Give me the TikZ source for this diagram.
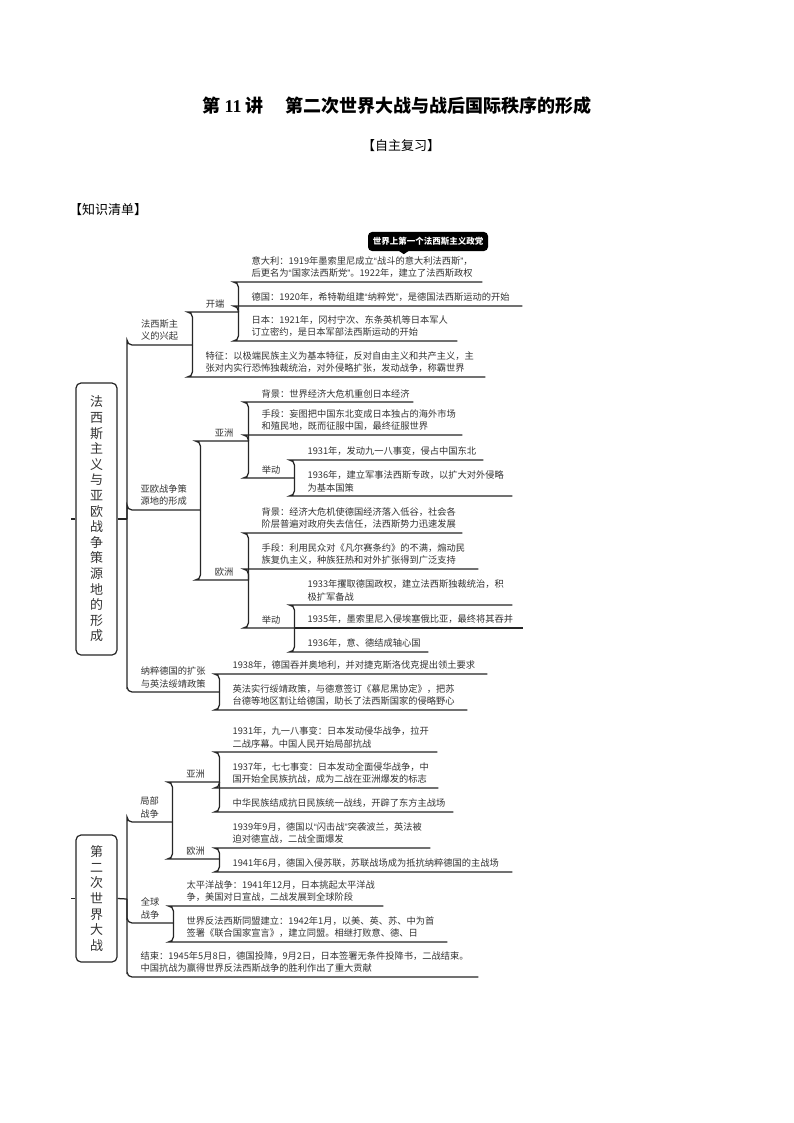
\documentclass[tikz,border=0pt]{standalone}
\usepackage{fontspec}
\setmainfont{Noto Sans CJK SC}
\newfontfamily\latinbf{Liberation Serif}
\newfontfamily\quotef{Liberation Sans}
\newcommand{\qopen}{{\quotef “}}
\newcommand{\qclose}{{\quotef ”}}
\definecolor{inkc}{HTML}{333333}
\definecolor{linec}{HTML}{262626}
\begin{document}
\begin{tikzpicture}[x=1pt, y=-1pt,
    txt/.style={font=\fontsize{9.25}{12.5}\selectfont, text=inkc},
    lab/.style={txt, anchor=south west, minimum width=#1, inner xsep=0pt, inner ysep=4pt, align=center},
    leaf/.style={txt, anchor=south west, text width=#1, inner xsep=13.5pt, inner ysep=4pt, align=left},
    root/.style={draw=linec, line width=1.2pt, rounded corners=5pt, minimum width=41pt, inner sep=0pt,
                 align=center, text=inkc, font=\fontsize{13}{15.6}\selectfont},
    link/.style={draw=linec, line width=1.25pt, rounded corners=5pt}]
  % Page
  \fill[white] (0,0) rectangle (794,1123);
  \useasboundingbox (0,0) rectangle (794,1123);

  % Headings
  \node[font=\fontsize{18}{20}\selectfont\bfseries] (title) at (397,106)
    {第 {\latinbf 11} 讲\hspace{1.2em}第二次世界大战与战后国际秩序的形成};
  \node[font=\fontsize{13}{15}\selectfont] (selfrev) at (401,146) {【自主复习】};
  \node[font=\fontsize{13}{15}\selectfont, anchor=west, inner sep=0pt] (checklist) at (69,210) {【知识清单】};

  % First map
  \node[root, minimum height=272pt] (root1) at (96.5,519)
    {法\\西\\斯\\主\\义\\与\\亚\\欧\\战\\争\\策\\源\\地\\的\\形\\成};
  \coordinate (r1) at (127,519);

  \node[lab=65pt] (A) at (127,345) {法西斯主\\义的兴起};
  \node[lab=46pt] (A1) at (192,312) {开端};
  \node[leaf=217pt] (A11) at (238,282) {意大利：1919年墨索里尼成立\qopen 战斗的意大利法西斯\qclose ，\\后更名为\qopen 国家法西斯党\qclose 。1922年，建立了法西斯政权};
  \node[leaf=257pt] (A12) at (238,306) {德国：1920年，希特勒组建\qopen 纳粹党\qclose ，是德国法西斯运动的开始};
  \node[leaf=192pt] (A13) at (238,341) {日本：1921年，冈村宁次、东条英机等日本军人\\订立密约，是日本军部法西斯运动的开始};
  \node[leaf=266pt] (A2) at (192,377) {特征：以极端民族主义为基本特征，反对自由主义和共产主义，主\\张对内实行恐怖独裁统治，对外侵略扩张，发动战争，称霸世界};

  \node[lab=73pt] (B) at (127,510) {亚欧战争策\\源地的形成};
  \node[lab=48pt] (B1) at (200,441) {亚洲};
  \node[leaf=138pt] (B11) at (248,402) {背景：世界经济大危机重创日本经济};
  \node[leaf=187pt] (B12) at (248,435) {手段：妄图把中国东北变成日本独占的海外市场\\和殖民地，既而征服中国，最终征服世界};
  \node[lab=46pt] (B13) at (248,478) {举动};
  \node[leaf=162pt] (B131) at (294,460) {1931年，发动九一八事变，侵占中国东北};
  \node[leaf=191pt] (B132) at (294,496) {1936年，建立军事法西斯专政，以扩大对外侵略\\为基本国策};
  \node[lab=48pt] (B2) at (200,580) {欧洲};
  \node[leaf=187pt] (B21) at (248,533) {背景：经济大危机使德国经济落入低谷，社会各\\阶层普遍对政府失去信任，法西斯势力迅速发展};
  \node[leaf=203pt] (B22) at (248,569) {手段：利用民众对《凡尔赛条约》的不满，煽动民\\族复仇主义，种族狂热和对外扩张得到广泛支持};
  \node[lab=46pt] (B23) at (248,628) {举动};
  \node[leaf=191pt] (B231) at (294,605) {1933年攫取德国政权，建立法西斯独裁统治，积\\极扩军备战};
  \node[leaf=202pt] (B232) at (294,628) {1935年，墨索里尼入侵埃塞俄比亚，最终将其吞并};
  \node[leaf=107pt] (B233) at (294,652) {1936年，意、德结成轴心国};

  \node[lab=92pt] (C) at (127,692) {纳粹德国的扩张\\与英法绥靖政策};
  \node[leaf=241pt] (C1) at (219,674) {1938年，德国吞并奥地利，并对捷克斯洛伐克提出领土要求};
  \node[leaf=221pt] (C2) at (219,710) {英法实行绥靖政策，与德意签订《慕尼黑协定》，把苏\\台德等地区割让给德国，助长了法西斯国家的侵略野心};

  % Tag over the Italy entry
  \node[fill=black, rounded corners=4pt, text=white, font=\fontsize{8.5}{10}\selectfont\bfseries,
        minimum width=120pt, minimum height=19pt, inner sep=0pt] (note) at (428,241.5) {世界上第一个法西斯主义政党};
  \fill ([xshift=30pt,yshift=1pt]note.south west) -- ++(12,0) -- ++(-6,4) -- cycle;

  % Second map
  \node[root, minimum height=127pt] (root2) at (96.5,898.5) {第\\二\\次\\世\\界\\大\\战};
  \coordinate (r2) at (127,899);

  \node[lab=45pt] (D) at (127,822) {局部\\战争};
  \node[lab=47pt] (D1) at (172,782) {亚洲};
  \node[leaf=191pt] (D11) at (219,752) {1931年，九一八事变：日本发动侵华战争，拉开\\二战序幕。中国人民开始局部抗战};
  \node[leaf=192pt] (D12) at (219,788) {1937年，七七事变：日本发动全面侵华战争，中\\国开始全民族抗战，成为二战在亚洲爆发的标志};
  \node[leaf=207pt] (D13) at (219,812) {中华民族结成抗日民族统一战线，开辟了东方主战场};
  \node[lab=47pt] (D2) at (172,859) {欧洲};
  \node[leaf=184pt] (D21) at (219,848) {1939年9月，德国以\qopen 闪击战\qclose 突袭波兰，英法被\\迫对德宣战，二战全面爆发};
  \node[leaf=266pt] (D22) at (219,872) {1941年6月，德国入侵苏联，苏联战场成为抵抗纳粹德国的主战场};
  \node[lab=46pt] (E) at (127,923) {全球\\战争};
  \node[leaf=183pt] (E1) at (173,906) {太平洋战争：1941年12月，日本挑起太平洋战\\争，美国对日宣战，二战发展到全球阶段};
  \node[leaf=247pt] (E2) at (173,942) {世界反法西斯同盟建立：1942年1月，以美、英、苏、中为首\\签署《联合国家宣言》，建立同盟。相继打败意、德、日};
  \node[leaf=324pt] (F) at (127,977) {结束：1945年5月8日，德国投降，9月2日，日本签署无条件投降书，二战结束。\\中国抗战为赢得世界反法西斯战争的胜利作出了重大贡献};

  % Stubs of the two boxes
  \draw[link] (root1.west) -- ++(-4,0);
  \draw[link] (root1.east) -- (r1);
  \draw[link] (root2.west) -- ++(-4,0);
  \draw[link] (root2.east) -- (r2);

  % Brackets
  \foreach \c in {A,B,C}
    \draw[link] (r1) |- (\c.south west) -- (\c.south east);
  \foreach \c in {D,E,F}
    \draw[link] (r2) |- (\c.south west) -- (\c.south east);
  \foreach \p/\c in {A/A1, A1/A11, A1/A12, A1/A13, A/A2,
                     B/B1, B1/B11, B1/B12, B1/B13, B13/B131, B13/B132,
                     B/B2, B2/B21, B2/B22, B2/B23, B23/B231, B23/B233,
                     C/C1, C/C2,
                     D/D1, D1/D11, D1/D12, D1/D13, D/D2, D2/D21, D2/D22,
                     E/E1, E/E2}
    \draw[link] (\p.south east) |- (\c.south west) -- (\c.south east);
  \draw[link] (B23.south east) -- (B232.south west) -- (B232.south east);
\end{tikzpicture}
\end{document}
